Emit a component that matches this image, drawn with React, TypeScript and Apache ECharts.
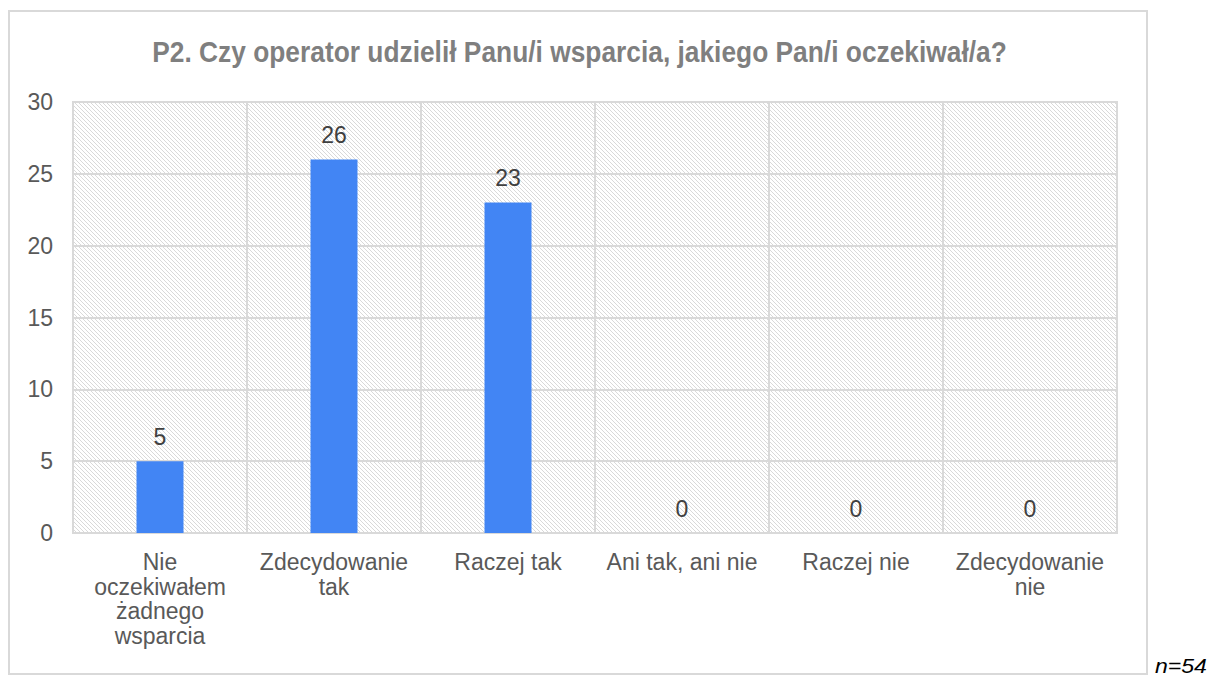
import React, { useEffect, useRef } from "react";
import * as echarts from "echarts";

const categories = [
  "Nie\noczekiwałem\nżadnego\nwsparcia",
  "Zdecydowanie\ntak",
  "Raczej tak",
  "Ani tak, ani nie",
  "Raczej nie",
  "Zdecydowanie\nnie",
];
const values = [5, 26, 23, 0, 0, 0];
const titleText = "P2. Czy operator udzielił Panu/i wsparcia, jakiego Pan/i oczekiwał/a?";
const noteText = "n=54";

function makeHatch(): HTMLCanvasElement {
  const c = document.createElement("canvas");
  c.width = 4;
  c.height = 4;
  const ctx = c.getContext("2d")!;
  ctx.fillStyle = "#ffffff";
  ctx.fillRect(0, 0, 4, 4);
  ctx.strokeStyle = "#d9d9d9";
  ctx.lineWidth = 1;
  ctx.beginPath();
  ctx.moveTo(-1, -1);
  ctx.lineTo(5, 5);
  ctx.moveTo(-1, 3);
  ctx.lineTo(1, 5);
  ctx.moveTo(3, -1);
  ctx.lineTo(5, 1);
  ctx.stroke();
  return c;
}

function measure(text: string, font: string): number {
  const c = document.createElement("canvas");
  const ctx = c.getContext("2d")!;
  ctx.font = font;
  return ctx.measureText(text).width;
}

export default function App() {
  const ref = useRef<HTMLDivElement>(null);
  useEffect(() => {
    if (!ref.current) return;
    const chart = echarts.init(ref.current, undefined, { renderer: "svg" });
    const hatch = makeHatch();
    const titleFont = "bold 30px 'Liberation Sans'";
    const titleScale = 855 / measure(titleText, titleFont);
    const noteFont = "italic 20px 'Liberation Sans'";
    const noteScale = 52 / measure(noteText, noteFont);
    chart.setOption({
      animation: false,
      backgroundColor: "#ffffff",
      graphic: [
        {
          type: "rect",
          shape: { x: 9, y: 11, width: 1138, height: 663 },
          style: { fill: "none", stroke: "#d9d9d9", lineWidth: 2 },
          silent: true,
          z: -1,
        },
        {
          type: "text",
          x: 579.5,
          y: 51,
          scaleX: titleScale,
          style: {
            text: titleText,
            font: titleFont,
            fill: "#7f7f7f",
            align: "center",
            verticalAlign: "middle",
          },
        },
        {
          type: "text",
          x: 1155,
          y: 666,
          scaleX: noteScale,
          style: {
            text: noteText,
            font: noteFont,
            fill: "#000000",
            align: "left",
            verticalAlign: "middle",
          },
        },
      ],
      grid: {
        left: 73,
        right: 1211 - 1117,
        top: 102,
        bottom: 677 - 533,
        show: true,
        backgroundColor: { image: hatch, repeat: "repeat" },
        borderColor: "#d9d9d9",
        borderWidth: 2,
      },
      xAxis: {
        type: "category",
        data: categories,
        axisLine: { show: true, lineStyle: { color: "#d9d9d9", width: 2 } },
        axisTick: { show: false },
        splitLine: { show: true, lineStyle: { color: "#d9d9d9", width: 2 } },
        axisLabel: {
          interval: 0,
          margin: 17,
          fontFamily: "Liberation Sans",
          fontSize: 23,
          lineHeight: 24.5,
          color: "#595959",
        },
      },
      yAxis: {
        type: "value",
        min: 0,
        max: 30,
        interval: 5,
        axisLine: { show: false },
        axisTick: { show: false },
        splitLine: { show: true, lineStyle: { color: "#d9d9d9", width: 2 } },
        axisLabel: {
          margin: 20,
          fontFamily: "Liberation Sans",
          fontSize: 23,
          color: "#595959",
        },
      },
      series: [
        {
          type: "bar",
          data: values,
          barWidth: 47,
          itemStyle: { color: "#4285f4" },
          label: {
            show: true,
            position: "top",
            distance: 13,
            fontFamily: "Liberation Sans",
            fontSize: 23,
            color: "#404040",
          },
        },
      ],
    });
    return () => chart.dispose();
  }, []);
  return (
    <div
      ref={ref}
      style={{ position: "fixed", left: 0, top: 0, width: 1211, height: 677 }}
    />
  );
}
